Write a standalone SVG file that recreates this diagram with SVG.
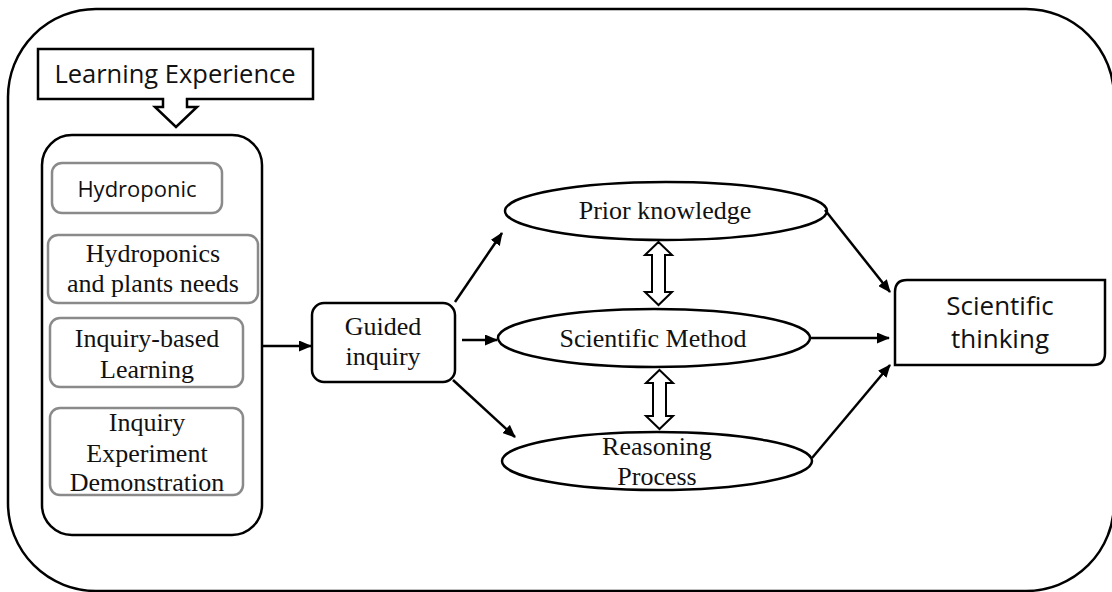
<svg xmlns="http://www.w3.org/2000/svg" width="1112" height="592" viewBox="0 0 1112 592">
  <defs>
    <marker id="head" viewBox="0 0 13 11" refX="12" refY="5.5" markerWidth="13" markerHeight="11" markerUnits="userSpaceOnUse" orient="auto">
      <path d="M0,0 L13,5.5 L0,11 Z" fill="#000"/>
    </marker>
    <style>
      .frame { fill: #fff; stroke: #000; stroke-width: 2.5; }
      .box { fill: #fff; stroke: #000; stroke-width: 2.5; }
      .sub { fill: #fff; stroke: #8a8a8a; stroke-width: 2.5; }
      .conn { fill: none; stroke: #000; stroke-width: 2.5; marker-end: url(#head); }
      .dbl { fill: #fff; stroke: #000; stroke-width: 2; stroke-linejoin: miter; }
      .sans { font-family: "Open Sans", "Noto Sans", "DejaVu Sans", sans-serif; fill: #111; text-anchor: middle; }
      .serif { font-family: "Liberation Serif", "Times New Roman", serif; font-size: 26px; fill: #111; text-anchor: middle; }
    </style>
  </defs>

  <!-- outer frame -->
  <rect class="frame" x="8" y="9" width="1106" height="582" rx="88" ry="88"/>

  <!-- header callout with down arrow -->
  <g id="learning-experience">
    <path class="box" d="M38,49 H313 V99 H187 V107 H197 L176,127 L155,107 H163 V99 H38 Z"/>
    <text class="sans" x="175" y="83" font-size="25.5">Learning Experience</text>
  </g>

  <!-- activities container -->
  <g id="activities">
    <rect class="box" x="42" y="135" width="220" height="400" rx="30" ry="30"/>
  </g>

  <g id="hydroponic">
    <rect class="sub" x="52" y="163" width="170" height="50" rx="10" ry="10"/>
    <text class="sans" x="137" y="197" font-size="22">Hydroponic</text>
  </g>

  <g id="plant-needs">
    <rect class="sub" x="48" y="235" width="210" height="68" rx="10" ry="10"/>
    <text class="serif" x="153" y="262">Hydroponics</text>
    <text class="serif" x="153" y="292">and plants needs</text>
  </g>

  <g id="inquiry-based">
    <rect class="sub" x="50" y="318" width="193" height="69" rx="10" ry="10"/>
    <text class="serif" x="147" y="347">Inquiry-based</text>
    <text class="serif" x="147" y="378">Learning</text>
  </g>

  <g id="inquiry-experiment">
    <rect class="sub" x="50" y="408" width="193" height="87" rx="10" ry="10"/>
    <text class="serif" x="147" y="431">Inquiry</text>
    <text class="serif" x="147" y="462">Experiment</text>
    <text class="serif" x="147" y="491">Demonstration</text>
  </g>

  <g id="guided-inquiry">
    <rect class="box" x="312" y="303" width="143" height="79" rx="12" ry="12"/>
    <text class="serif" x="383" y="335">Guided</text>
    <text class="serif" x="383" y="365">inquiry</text>
  </g>

  <g id="prior-knowledge">
    <ellipse class="box" cx="666" cy="211" rx="161" ry="29"/>
    <text class="serif" x="665" y="219" font-size="26.5">Prior knowledge</text>
  </g>

  <g id="scientific-method">
    <ellipse class="box" cx="654" cy="338" rx="156" ry="29"/>
    <text class="serif" x="653" y="347" font-size="25.5">Scientific Method</text>
  </g>

  <g id="reasoning-process">
    <ellipse class="box" cx="657" cy="461" rx="155" ry="29"/>
    <text class="serif" x="657" y="455">Reasoning</text>
    <text class="serif" x="657" y="485">Process</text>
  </g>

  <g id="scientific-thinking">
    <path class="box" d="M907,280 H1105 V353 Q1105,365 1093,365 H895 V292 Q895,280 907,280 Z"/>
    <text class="sans" x="1000" y="315" font-size="26">Scientific</text>
    <text class="sans" x="1000" y="348" font-size="26">thinking</text>
  </g>

  <!-- connectors -->
  <g id="connectors">
    <line class="conn" x1="262" y1="346" x2="311" y2="346"/>
    <line class="conn" x1="455" y1="302" x2="502" y2="233"/>
    <line class="conn" x1="462" y1="340" x2="497" y2="340"/>
    <line class="conn" x1="453" y1="380" x2="515" y2="437"/>
    <line class="conn" x1="825" y1="210" x2="890" y2="292"/>
    <line class="conn" x1="810" y1="338" x2="889" y2="338"/>
    <line class="conn" x1="812" y1="458" x2="890" y2="365"/>

    <!-- hollow two-way arrows between the ellipses -->
    <path class="dbl" d="M658.5,242 L672,255 H665 V292 H672 L658.5,305 L645,292 H652 V255 H645 Z"/>
    <path class="dbl" d="M659.5,370 L673,383 H666 V416 H673 L659.5,429 L646,416 H653 V383 H646 Z"/>
  </g>
</svg>
